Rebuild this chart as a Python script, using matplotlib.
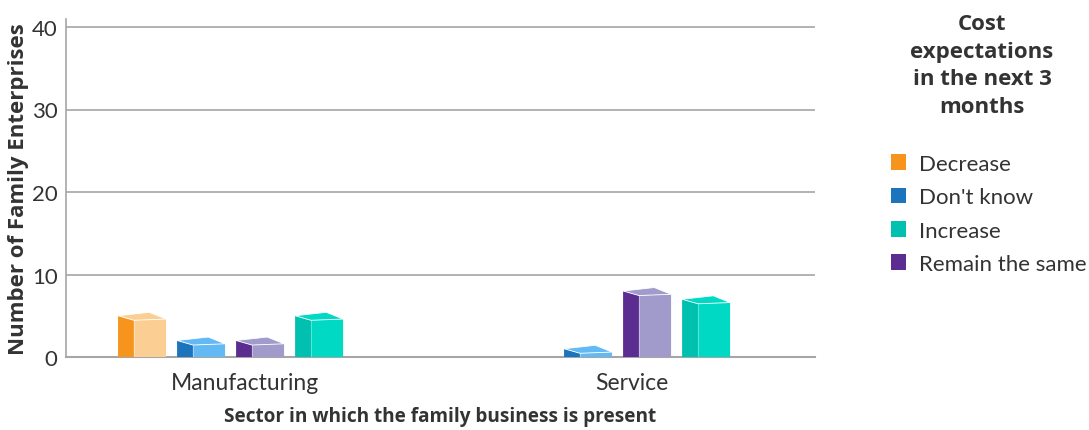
import numpy as np
import matplotlib
matplotlib.use('Agg')
import matplotlib.pyplot as plt
from matplotlib.patches import Polygon, Patch

plt.rcParams.update({'font.family': ['Lato', 'DejaVu Sans'], 'font.size': 16,
                     'text.color': '#333333', 'axes.labelcolor': '#333333'})
BOLD = ['Open Sans', 'DejaVu Sans']

sectors = ['Manufacturing', 'Service']
expectations = ['Decrease', "Don't know", 'Remain the same', 'Increase']
decrease = [5, 0]
dont_know = [2, 1]
remain_same = [2, 8]
increase = [5, 7]

# side / front colours per series
dark = {'Decrease': '#F7941D', "Don't know": '#1C75BC',
        'Remain the same': '#5C2D91', 'Increase': '#00C0AF'}
light = {'Decrease': '#FBCF93', "Don't know": '#63B9F4',
         'Remain the same': '#A09BCB', 'Increase': '#00DAC4'}
legend_order = ['Decrease', "Don't know", 'Increase', 'Remain the same']

fig = plt.figure(figsize=(10.89, 4.31), dpi=100)
ax = fig.add_axes([66/1089, 1 - 358/431, 749/1089, 338.25/431])

x = np.arange(len(sectors))
step = 0.1525
width = 0.124
side = 0.041
start = -0.328


def box(ax, x0, v, c_dark, c_light):
    if v <= 0:
        return
    x1 = x0 + width
    xf = x0 + side
    fl, fr, back = 0.55, 0.4, 0.42
    yfl = max(v - fl, 0)
    yfr = max(v - fr, 0)
    ax.add_patch(Polygon([(x0, 0), (x0, v), (xf, yfl), (xf, 0)],
                         closed=True, fc=c_dark, ec='none', zorder=3))
    ax.add_patch(Polygon([(xf, 0), (xf, yfl), (x1, yfr), (x1, 0)],
                         closed=True, fc=c_light, ec='none', zorder=3))
    ax.add_patch(Polygon([(x0, v), (x0 + 0.65 * width, v + back), (x1, yfr), (xf, yfl)],
                         closed=True, fc=c_light, ec='white', lw=0.6, zorder=4))
    ax.plot([xf, xf], [0, yfl], color='white', lw=0.5, alpha=0.5, zorder=4)


series = [decrease, dont_know, remain_same, increase]
for i, (name, vals) in enumerate(zip(expectations, series)):
    for xi, v in zip(x, vals):
        box(ax, xi + start + i * step, v, dark[name], light[name])

ax.set_xlim(-0.4625, 1.4729)
ax.set_ylim(0, 41)
ax.set_yticks([0, 10, 20, 30, 40])
ax.set_xticks(x)
ax.set_xticklabels(sectors)
ax.tick_params(axis='both', length=0, colors='#333333', labelsize=16)
ax.tick_params(axis='x', labelsize=16.5)
ax.tick_params(axis='y', pad=6)
ax.tick_params(axis='x', pad=11)
ax.grid(axis='y', color='#A6A6A6', lw=1.2, zorder=0)
ax.set_axisbelow(True)
for s in ['top', 'right']:
    ax.spines[s].set_visible(False)
ax.spines['left'].set_color('#A6A6A6')
ax.spines['bottom'].set_color('#A6A6A6')
ax.spines['left'].set_linewidth(1.2)
ax.spines['bottom'].set_linewidth(1.5)

ax.set_ylabel('Number of Family Enterprises', family=BOLD, fontweight='bold',
              fontsize=16, labelpad=2)
ax.set_xlabel('Sector in which the family business is present', family=BOLD,
              fontweight='bold', fontsize=13.7, labelpad=9)

fig.text(982/1089, 1 - 66/431, 'Cost\nexpectations\nin the next 3\nmonths', family=BOLD,
         ha='center', va='center', fontweight='bold', fontsize=16, linespacing=1.4)

handles = [Patch(facecolor=dark[n], label=n) for n in legend_order]
fig.legend(handles=handles, loc='upper left', bbox_to_anchor=(882/1089, 1 - 146/431),
           frameon=False, fontsize=16, handlelength=0.7, handleheight=0.7,
           handletextpad=0.55, labelspacing=0.6, borderaxespad=0)

fig.savefig('out.png', dpi=100)
